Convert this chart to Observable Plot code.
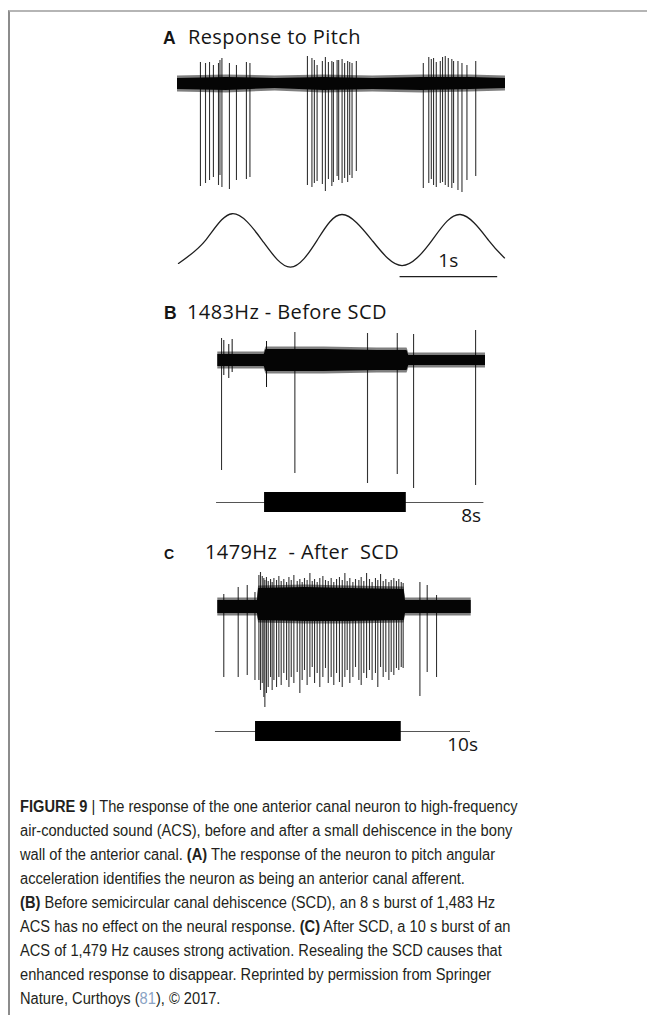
<!DOCTYPE html>
<html><head><meta charset="utf-8">
<script src="https://cdn.jsdelivr.net/npm/d3@7"></script>
<script src="https://cdn.jsdelivr.net/npm/@observablehq/plot@0.6"></script>
<style>
html,body{margin:0;padding:0;background:#fff;}
#page{position:relative;width:647px;height:1015px;overflow:hidden;background:#fff;}
.frame{position:absolute;left:8px;top:10px;right:-5px;bottom:-5px;border-top:2px solid #b5b5b5;border-left:2px solid #8c8c8c;}
.abs{position:absolute;left:0;}
.ttl{position:absolute;white-space:nowrap;font-family:"Open Sans",sans-serif;font-size:20px;letter-spacing:0.4px;color:#151515;line-height:20px;}
.lbl{position:absolute;white-space:nowrap;font-family:"Liberation Sans",Arial,sans-serif;font-weight:bold;color:#151515;line-height:19px;}
.cap{position:absolute;left:20px;top:795px;white-space:nowrap;font-family:"Liberation Sans Narrow","Arial Narrow","Liberation Sans",sans-serif;font-size:16px;line-height:24px;color:#231f20;transform:scaleX(0.915);transform-origin:0 0;}
.cap b{font-weight:bold;}
.cap .ref{color:#8aa3c4;}
</style>
</head><body>
<div id="page">
  <div class="frame"></div>
  <span class="lbl" style="left:163px;top:29px;font-size:17.5px;">A</span>
  <span class="ttl" style="left:188px;top:27px;">Response to Pitch</span>
  <span class="lbl" style="left:164px;top:304px;font-size:17.5px;">B</span>
  <span class="ttl" style="left:187px;top:302px;">1483Hz - Before SCD</span>
  <span class="lbl" style="left:164px;top:545px;font-size:14px;">C</span>
  <span class="ttl" style="left:205px;top:542px;">1479Hz&nbsp; - After&nbsp; SCD</span>
  <div class="cap"><b>FIGURE 9</b> | The response of the one anterior canal neuron to high-frequency<br>air-conducted sound (ACS), before and after a small dehiscence in the bony<br>wall of the anterior canal. <b>(A)</b> The response of the neuron to pitch angular<br>acceleration identifies the neuron as being an anterior canal afferent.<br><b>(B)</b> Before semicircular canal dehiscence (SCD), an 8 s burst of 1,483 Hz<br>ACS has no effect on the neural response. <b>(C)</b> After SCD, a 10 s burst of an<br>ACS of 1,479 Hz causes strong activation. Resealing the SCD causes that<br>enhanced response to disappear. Reprinted by permission from Springer<br>Nature, Curthoys (<span class="ref">81</span>), © 2017.</div>
</div>
<script>
// ---------- Panel A: response to pitch (time in s, amplitude in a.u.) ----------
const aSpikeT = [0.235,0.287,0.328,0.368,0.420,0.435,0.455,0.532,0.604,0.706,0.742,
  1.331,1.377,1.402,1.430,1.484,1.515,1.546,1.581,1.597,1.635,1.651,1.686,1.712,1.743,1.764,1.788,1.832,
  2.518,2.574,2.600,2.623,2.651,2.692,2.715,2.743,2.774,2.810,2.828,2.873,2.914,2.965,3.055];
const aSpikeMin = [-103,-100,-97,-94,-102,-92,-104,-106,-97,-96,-94,
  -102,-104,-100,-98,-101,-108,-96,-103,-99,-93,-97,-100,-95,-99,-92,-95,-88,
  -105,-100,-96,-102,-104,-100,-99,-102,-104,-105,-100,-107,-109,-97,-93];
const aSpikeMax = [21,20,21,18,20,23,25,20,18,21,20,
  27,25,23,18,22,26,21,22,21,23,23,24,20,22,21,20,22,
  20,26,24,25,21,22,26,27,25,24,22,22,20,18,22];
const aBandT   = [0, 0.5, 1.0, 1.5, 2.0, 2.5, 3.0, 3.36];
const aBandTop = [5, 6, 5, 6, 5, 6, 6, 5];
const aBandBot = [-6, -7, -5, -7, -6, -7, -6, -5];
// pitch stimulus: extrema and mid-crossings
const aPitchT = [0.010, 0.287, 0.560, 0.867, 1.157, 1.430, 1.686, 1.993, 2.300, 2.607, 2.897, 3.187, 3.350];
const aPitchV = [-0.88, 0.0, 1.01, 0.0, -1.02, 0.0, 0.98, 0.0, -0.96, 0.0, 0.98, 0.0, -0.67];
const aScaleBar = [2.28, 3.28]; const aScaleLabel = "1s";

// ---------- Panel B: 1483 Hz before SCD ----------
const bSpikeT   = [0.21, 4.35, 8.45, 10.13, 11.05, 14.55];
const bSpikeMin = [-110, -113, -123, -114, -128, -125];
const bSpikeMax = [22, 28, 27, 27, 26, 30];
const bMinorT   = [0.34, 0.62, 0.81, 2.75];
const bMinorMin = [-15, -18, -12, -27];
const bMinorMax = [20, 16, 21, 19];
const bBandT   = [0, 2.62, 2.72, 6.0, 9.0, 10.68, 10.78, 15.11];
const bBandTop = [6, 6, 11, 11, 10, 10, 5, 5];
const bBandBot = [-6, -6, -11, -11, -10, -10, -5, -5];
const bStim = [2.64, 10.64]; const bTrace = [-0.07, 15.02]; const bLabel = "8s";

// ---------- Panel C: 1479 Hz after SCD ----------
const cSpikeT = [0.41, 1.40, 2.02, 2.55,
  2.82,2.93,3.05,3.16,3.23,3.34,3.46,3.62,3.73,3.85,4.03,4.19,4.35,4.53,4.72,4.88,5.04,5.22,5.45,5.63,
  5.79,5.95,6.13,6.32,6.48,6.64,6.82,7.00,7.21,7.39,7.58,7.78,7.96,8.15,8.35,8.54,8.72,8.88,9.06,9.27,
  9.45,9.68,9.84,10.02,10.21,10.41,10.59,10.82,10.98,11.17,11.35,11.53,11.74,11.90,12.08,12.26,12.42,12.59,12.72,
  13.87, 14.37, 15.01];
const cSpikeMin = [-71, -71, -69, -74,
  -74,-84,-77,-91,-101,-87,-81,-71,-84,-74,-81,-71,-79,-67,-74,-81,-71,-77,-66,-87,
  -74,-64,-79,-71,-61,-77,-67,-81,-71,-62,-77,-71,-79,-67,-76,-81,-71,-64,-77,-71,
  -61,-74,-79,-67,-72,-64,-74,-67,-81,-61,-71,-66,-74,-66,-69,-62,-64,-61,-62,
  -90, -66, -71];
const cSpikeMax = [12, 19, 21, 14,
  31,34,30,28,26,29,25,27,24,28,26,30,25,27,24,29,26,31,25,27,
  24,28,26,33,25,27,24,28,30,26,25,28,24,27,29,26,33,25,28,24,
  27,26,29,25,33,27,24,28,26,32,25,27,24,26,28,25,27,24,23,
  24, 21, 11];
const cBandT   = [0, 2.72, 2.80, 6.0, 9.0, 12.78, 12.88, 17.39];
const cBandTop = [6, 6, 18, 19, 18, 17, 6, 6];
const cBandBot = [-7, -7, -14, -15, -15, -14, -7, -7];
const cStim = [2.59, 12.59]; const cTrace = [-0.16, 17.34]; const cLabel = "10s";

// ---------- drawing ----------
const W = 647;
const page = document.getElementById("page");
const zip = (keys, ...cols) => cols[0].map((_, i) => Object.fromEntries(keys.map((k, j) => [k, cols[j][i]])));
function place(svg, top) {
  const d = document.createElement("div");
  d.className = "abs"; d.style.top = top + "px";
  d.appendChild(svg); page.appendChild(d);
}
function base(opts) {
  return Plot.plot({
    width: W, marginTop: 0, marginBottom: 0,
    style: {background: "none", overflow: "visible"},
    ...opts
  });
}
const spikeStroke = "#333";
const labelFont = {fontFamily: "Open Sans, sans-serif", fontSize: 19, fill: "#151515"};
const FUZZ = 2.5; // fuzzy edge of the noisy baseline (a.u.)

function tracePlot({top, height, ml, mr, xd, yd, spikes, minor, band}) {
  place(base({
    height, marginLeft: ml, marginRight: mr,
    x: {domain: xd, axis: null}, y: {domain: yd, axis: null},
    marks: [
      Plot.ruleX(spikes, {x: "t", y1: "lo", y2: "hi", stroke: spikeStroke, strokeWidth: 1.1}),
      minor ? Plot.ruleX(minor, {x: "t", y1: "lo", y2: "hi", stroke: "#111", strokeWidth: 1}) : null,
      Plot.areaY(band, {x: "t", y1: d => d.lo - FUZZ, y2: d => d.hi + FUZZ, fill: "#000", fillOpacity: 0.5}),
      Plot.areaY(band, {x: "t", y1: "lo", y2: "hi", fill: "#050505"})
    ]
  }), top);
}

// A trace
tracePlot({top: 58, height: 135, ml: 177, mr: W - 505, xd: [0, 3.36], yd: [-110, 25],
  spikes: zip(["t","lo","hi"], aSpikeT, aSpikeMin, aSpikeMax),
  band: zip(["t","hi","lo"], aBandT, aBandTop, aBandBot)});
// A pitch stimulus + scale bar
place(base({
  height: 85, marginLeft: 177, marginRight: W - 505,
  x: {domain: [0, 3.36], axis: null}, y: {domain: [-1.719, 1.513], axis: null},
  marks: [
    Plot.line(zip(["t","v"], aPitchT, aPitchV), {x: "t", y: "v", curve: "natural", stroke: "#1e1e1e", strokeWidth: 1.3}),
    Plot.ruleY([-1.38], {x1: aScaleBar[0], x2: aScaleBar[1], stroke: "#1e1e1e", strokeWidth: 1.3}),
    Plot.text([aScaleLabel], {x: 2.774, y: -0.80, text: d => d, ...labelFont})
  ]
}), 200);

// B trace
tracePlot({top: 325, height: 170, ml: 217.3, mr: W - 485, xd: [0, 15.11], yd: [-135, 35],
  spikes: zip(["t","lo","hi"], bSpikeT, bSpikeMin, bSpikeMax),
  minor: zip(["t","lo","hi"], bMinorT, bMinorMin, bMinorMax),
  band: zip(["t","hi","lo"], bBandT, bBandTop, bBandBot)});
// stimulus bars
function stimPlot({top, ml, mr, xd, stim, trace, label, labelX}) {
  place(base({
    height: 50, marginLeft: ml, marginRight: mr,
    x: {domain: xd, axis: null}, y: {domain: [-3.5, 1.5], axis: null},
    marks: [
      Plot.ruleY([0], {x1: trace[0], x2: trace[1], stroke: "#555", strokeWidth: 1}),
      Plot.rect([stim], {x1: d => d[0], x2: d => d[1], y1: -1, y2: 1, fill: "#000"}),
      Plot.text([label], {x: labelX, y: -1.35, text: d => d, ...labelFont})
    ]
  }), top);
}
stimPlot({top: 487, ml: 217.3, mr: W - 485, xd: [0, 15.11], stim: bStim, trace: bTrace, label: bLabel, labelX: 14.3});

// C trace
tracePlot({top: 565, height: 150, ml: 217.3, mr: W - 470.7, xd: [0, 17.39], yd: [-109, 41],
  spikes: zip(["t","lo","hi"], cSpikeT, cSpikeMin, cSpikeMax),
  band: zip(["t","hi","lo"], cBandT, cBandTop, cBandBot)});
stimPlot({top: 716, ml: 217.3, mr: W - 470.7, xd: [0, 17.39], stim: cStim, trace: cTrace, label: cLabel, labelX: 16.8});
</script>
</body></html>
